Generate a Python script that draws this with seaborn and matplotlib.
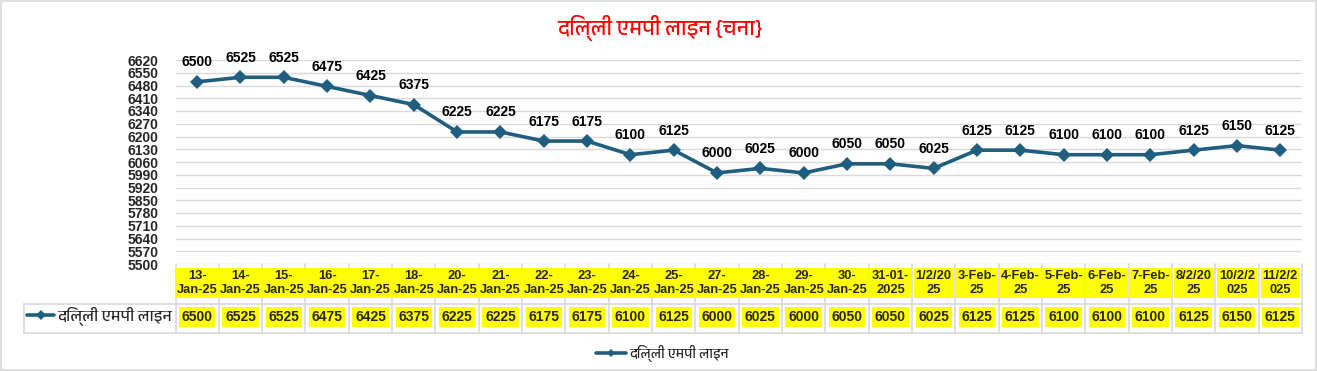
import matplotlib
matplotlib.use('Agg')
import matplotlib.pyplot as plt
from matplotlib import font_manager as fm
from matplotlib.ft2font import FT2Font
from matplotlib.lines import Line2D
from matplotlib.patches import Rectangle
import pandas as pd
import seaborn as sns

# data
dates = ['13-\nJan-25', '14-\nJan-25', '15-\nJan-25', '16-\nJan-25', '17-\nJan-25',
         '18-\nJan-25', '20-\nJan-25', '21-\nJan-25', '22-\nJan-25', '23-\nJan-25',
         '24-\nJan-25', '25-\nJan-25', '27-\nJan-25', '28-\nJan-25', '29-\nJan-25',
         '30-\nJan-25', '31-01-\n2025', '1/2/20\n25', '3-Feb-\n25', '4-Feb-\n25',
         '5-Feb-\n25', '6-Feb-\n25', '7-Feb-\n25', '8/2/20\n25', '10/2/2\n025',
         '11/2/2\n025']
prices = [6500, 6525, 6525, 6475, 6425, 6375, 6225, 6225, 6175, 6175,
          6100, 6125, 6000, 6025, 6000, 6050, 6050, 6025, 6125, 6125,
          6100, 6100, 6100, 6125, 6150, 6125]
y_ticks = [5500, 5570, 5640, 5710, 5780, 5850, 5920, 5990, 6060, 6130,
           6200, 6270, 6340, 6410, 6480, 6550, 6620]
series_name = 'दिल्ली एमपी लाइन'
title = 'दिल्ली एमपी लाइन {चना}'

LINE = '#1F5E7E'
GRID = '#D9D9D9'
YELLOW = '#FFFF00'


def font_with(ch):
    fonts = sorted(fm.fontManager.ttflist, key=lambda f: 'Devanagari' not in f.name)
    for f in fonts:
        try:
            if ord(ch) in FT2Font(f.fname).get_charmap():
                return f.name
        except Exception:
            pass
    return 'DejaVu Sans'


hindi = [font_with('\u0926'), 'DejaVu Sans']
num_fp = fm.FontProperties(family='Liberation Sans', weight='bold', size=10)
cat_fp = fm.FontProperties(family='Liberation Sans', weight='bold', size=9.3)

sns.set_theme(style='white')
plt.rcParams['font.family'] = ['Liberation Sans', 'DejaVu Sans']

W, H = 1317, 371
fig = plt.figure(figsize=(W / 100, H / 100), dpi=100)
left, right, top, bottom = 175.5, 1302, 60, 264
ax = fig.add_axes([left / W, 1 - bottom / H, (right - left) / W, (bottom - top) / H])

df = pd.DataFrame({'x': range(len(prices)), 'price': prices})
sns.lineplot(data=df, x='x', y='price', ax=ax, color=LINE, lw=2.6,
             marker='D', markersize=7, markeredgewidth=0, legend=False)

ax.set_xlim(-0.5, len(prices) - 0.5)
ax.set_ylim(y_ticks[0], y_ticks[-1])
ax.set_yticks(y_ticks)
ax.set_yticklabels([str(t) for t in y_ticks], fontproperties=num_fp)
ax.tick_params(axis='y', length=0, pad=12)
ax.set_xticks([])
ax.set_xlabel('')
ax.set_ylabel('')
for t in y_ticks:
    ax.axhline(t, color=GRID, lw=1, zorder=0)
for s in ax.spines.values():
    s.set_visible(False)

# data labels
for i, v in enumerate(prices):
    ax.annotate(str(v), (i, v), xytext=(0, 9), textcoords='offset points',
                ha='center', va='bottom', fontproperties=num_fp, color='black')

# data table below the axes
tr = ax.get_xaxis_transform()
ph = bottom - top


def ay(py):
    return (bottom - py) / ph


for i, lab in enumerate(dates):
    ax.text(i, ay(283), lab, transform=tr, ha='center', va='center',
            fontproperties=cat_fp, linespacing=1.3, clip_on=False,
            bbox=dict(boxstyle='square,pad=0.15', fc=YELLOW, ec='none'))
    ax.text(i, ay(317), str(prices[i]), transform=tr, ha='center', va='center',
            fontproperties=num_fp, clip_on=False,
            bbox=dict(boxstyle='square,pad=0.2', fc=YELLOW, ec='none'))
for i in range(len(dates) + 1):
    ax.plot([i - 0.5, i - 0.5], [ay(264), ay(333)], transform=tr, color=GRID,
            lw=1.2, clip_on=False)

for py in (304, 333):
    fig.add_artist(Line2D([24 / W, right / W], [1 - py / H, 1 - py / H],
                          color=GRID, lw=1.2))
fig.add_artist(Line2D([24 / W, 24 / W], [1 - 304 / H, 1 - 333 / H], color=GRID, lw=1.2))

# legend key inside table
fig.add_artist(Line2D([27 / W, 40.5 / W, 54 / W], [1 - 315 / H] * 3, color=LINE, lw=2.6,
                      marker='D', markersize=5, markevery=[1], markeredgewidth=0))
fig.text(57 / W, 1 - 316 / H, series_name, ha='left', va='center', fontsize=11.5,
         fontweight='bold', family=hindi)

# bottom legend
handle = Line2D([], [], color=LINE, lw=2.6, marker='D', markersize=4, markeredgewidth=0)
fig.legend([handle], [series_name], loc='center', bbox_to_anchor=(662 / W, 1 - 353 / H),
           frameon=False, handlelength=2.2, handletextpad=0.2,
           prop={'family': hindi, 'size': 10})

fig.text(660 / W, 1 - 28 / H, title, ha='center', va='center', color='#FF0000',
         fontsize=15.5, fontweight='bold', family=hindi)

fig.patches.append(Rectangle((0.001, 0.002), 0.998, 0.996, transform=fig.transFigure,
                             fill=False, edgecolor=GRID, lw=1.2))

fig.savefig('out.png', dpi=100, facecolor='white')
